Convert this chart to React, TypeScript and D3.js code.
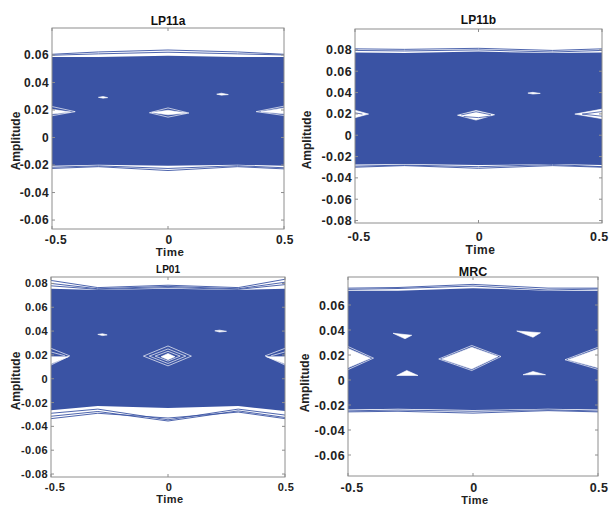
import React from 'react';
import * as d3 from 'd3';

type Pt = [number, number];

// ---------- shared data ----------
const knots = [-0.5, -0.3, 0, 0.3, 0.5];
const xTicks = [-0.5, 0, 0.5];
const titles = ['LP11a', 'LP11b', 'LP01', 'MRC'];

// ---------- LP11a ----------
const lp11aYTicks = [-0.06, -0.04, -0.02, 0, 0.02, 0.04, 0.06];
const lp11aTop = [0.0585, 0.0585, 0.0595, 0.0585, 0.0585];
const lp11aBottom = [-0.0205, -0.0198, -0.0205, -0.0198, -0.0205];
const lp11aTraces = [
  [0.0605, 0.0622, 0.0636, 0.0622, 0.0605],
  [0.0598, 0.0608, 0.062, 0.0608, 0.06],
  [-0.0225, -0.0212, -0.024, -0.0212, -0.0228],
  [-0.0216, -0.0206, -0.0225, -0.0205, -0.022],
];
const lp11aEyes: Pt[][] = [
  [[-0.07, 0.0182], [0, 0.0198], [0.08, 0.0178], [0, 0.0165]],
  [[-0.5, 0.0205], [-0.42, 0.0185], [-0.5, 0.017]],
  [[0.5, 0.0215], [0.4, 0.0188], [0.5, 0.0172]],
  [[-0.3, 0.0292], [-0.28, 0.0298], [-0.26, 0.029], [-0.28, 0.0286]],
  [[0.21, 0.0315], [0.23, 0.0322], [0.26, 0.0312], [0.23, 0.0308]],
];
const lp11aRims: Pt[][] = [
  [[-0.08, 0.018], [0, 0.0215], [0.09, 0.0178], [0, 0.0148], [-0.08, 0.018]],
  [[-0.5, 0.0225], [-0.4, 0.0188], [-0.5, 0.0158]],
  [[0.5, 0.0228], [0.38, 0.0188], [0.5, 0.016]],
];
const lp11aInner: Pt[][] = [];

// ---------- LP11b ----------
const lp11bYTicks = [-0.08, -0.06, -0.04, -0.02, 0, 0.02, 0.04, 0.06, 0.08];
const lp11bTop = [0.0775, 0.077, 0.0785, 0.077, 0.0775];
const lp11bBottom = [-0.0275, -0.027, -0.028, -0.027, -0.028];
const lp11bTraces = [
  [0.081, 0.0805, 0.0815, 0.0795, 0.081],
  [0.0795, 0.079, 0.08, 0.078, 0.0795],
  [-0.03, -0.0285, -0.031, -0.0285, -0.03],
  [-0.029, -0.028, -0.0295, -0.0275, -0.0295],
];
const lp11bEyes: Pt[][] = [
  [[-0.085, 0.0188], [-0.01, 0.0232], [0.065, 0.0192], [-0.01, 0.0142]],
  [[-0.5, 0.0235], [-0.445, 0.0198], [-0.5, 0.0165]],
  [[0.5, 0.0245], [0.39, 0.0198], [0.5, 0.0155]],
  [[0.2, 0.0395], [0.22, 0.0402], [0.25, 0.0392], [0.22, 0.0386]],
];
const lp11bRims: Pt[][] = [];
const lp11bInner: Pt[][] = [
  [[-0.07, 0.019], [-0.01, 0.022], [0.05, 0.0192]],
  [[-0.06, 0.0175], [0, 0.0165], [0.05, 0.018]],
  [[0.5, 0.0222], [0.42, 0.0198], [0.5, 0.0178]],
  [[-0.5, 0.021], [-0.47, 0.0198]],
];

// ---------- LP01 ----------
const lp01YTicks = [-0.08, -0.06, -0.04, -0.02, 0, 0.02, 0.04, 0.06, 0.08];
const lp01Top = [0.0755, 0.0745, 0.0755, 0.0745, 0.0755];
const lp01Bottom = [-0.0265, -0.023, -0.0245, -0.023, -0.027];
const lp01Traces = [
  [0.0825, 0.0765, 0.0785, 0.0765, 0.0835],
  [0.08, 0.0755, 0.0775, 0.0755, 0.081],
  [0.078, 0.075, 0.0765, 0.075, 0.079],
  [-0.029, -0.0255, -0.0345, -0.0255, -0.0305],
  [-0.0315, -0.0275, -0.0355, -0.027, -0.0325],
  [-0.0335, -0.029, -0.033, -0.028, -0.0335],
];
const lp01Eyes: Pt[][] = [
  [[-0.03, 0.0185], [0, 0.0212], [0.03, 0.0185], [0, 0.016]],
  [[-0.5, 0.0185], [-0.425, 0.0185], [-0.5, 0.0125]],
  [[0.5, 0.0185], [0.42, 0.0185], [0.5, 0.0125]],
  [[-0.3, 0.0372], [-0.28, 0.0378], [-0.26, 0.0368], [-0.28, 0.0362]],
  [[0.2, 0.0402], [0.22, 0.0408], [0.25, 0.0398], [0.22, 0.0392]],
];
const lp01Rims: Pt[][] = [
  [[-0.105, 0.019], [0, 0.0275], [0.1, 0.019], [0, 0.0108], [-0.105, 0.019]],
  [[-0.08, 0.019], [0, 0.025], [0.076, 0.019], [0, 0.0128], [-0.08, 0.019]],
  [[-0.055, 0.019], [0, 0.023], [0.052, 0.019], [0, 0.0148], [-0.055, 0.019]],
  [[-0.5, 0.0255], [-0.42, 0.0192], [-0.5, 0.0115]],
  [[-0.5, 0.0225], [-0.44, 0.0192]],
  [[0.5, 0.0255], [0.415, 0.0192], [0.5, 0.0115]],
  [[0.5, 0.0225], [0.44, 0.0192]],
];
const lp01Inner: Pt[][] = [];

// ---------- MRC ----------
const mrcYTicks = [-0.06, -0.04, -0.02, 0, 0.02, 0.04, 0.06];
const mrcTop = [0.0715, 0.0715, 0.0735, 0.0715, 0.0715];
const mrcBottom = [-0.0235, -0.023, -0.024, -0.023, -0.0235];
const mrcTraces = [
  [0.0735, 0.074, 0.0765, 0.0735, 0.0735],
  [0.0725, 0.0732, 0.0752, 0.072, 0.0728],
  [-0.0255, -0.025, -0.0265, -0.0245, -0.0255],
  [-0.0247, -0.024, -0.025, -0.0238, -0.0248],
];
const mrcEyes: Pt[][] = [
  [[-0.125, 0.0168], [-0.005, 0.0262], [0.1, 0.0188], [-0.005, 0.0088]],
  [[-0.5, 0.0252], [-0.41, 0.0175], [-0.5, 0.0098]],
  [[0.5, 0.0248], [0.38, 0.0162], [0.5, 0.0098]],
  [[-0.32, 0.0374], [-0.245, 0.0358], [-0.272, 0.033]],
  [[-0.305, 0.0036], [-0.265, 0.0076], [-0.22, 0.0036]],
  [[0.175, 0.0392], [0.27, 0.0378], [0.24, 0.0342]],
  [[0.2, 0.0042], [0.24, 0.0068], [0.29, 0.0042]],
];
const mrcRims: Pt[][] = [
  [[-0.137, 0.0168], [-0.005, 0.0276], [0.112, 0.0188], [-0.005, 0.0076], [-0.137, 0.0168]],
  [[-0.5, 0.0268], [-0.398, 0.0175], [-0.5, 0.0083]],
  [[0.5, 0.0262], [0.368, 0.0162], [0.5, 0.0085]],
];
const mrcInner: Pt[][] = [];

// ---------- layout ----------
const BLUE = '#3a53a4';
const FONT = '"Liberation Sans", Arial, Helvetica, sans-serif';
const W = 611;
const H = 506;

interface PanelDef {
  title: string;
  x0: number; x1: number; y0: number; y1: number;
  yDomain: [number, number];
  yTicks: number[];
  top: number[]; bottom: number[]; traces: number[][];
  eyes: Pt[][]; rims: Pt[][]; inner: Pt[][];
  tickFont: number; titleFont: number; timeFont: number;
  titleY: number; xTickY: number; timeY: number;
  ampX: number; ampY: number;
}

const panels: PanelDef[] = [
  {
    title: titles[0], x0: 52, x1: 284, y0: 28, y1: 229, yDomain: [-0.0665, 0.0796],
    yTicks: lp11aYTicks, top: lp11aTop, bottom: lp11aBottom, traces: lp11aTraces,
    eyes: lp11aEyes, rims: lp11aRims, inner: lp11aInner,
    tickFont: 12, titleFont: 12, timeFont: 11.5, titleY: 25, xTickY: 243.5, timeY: 256, ampX: 20, ampY: 141,
  },
  {
    title: titles[1], x0: 355, x1: 602, y0: 29, y1: 223, yDomain: [-0.0823, 0.0996],
    yTicks: lp11bYTicks, top: lp11bTop, bottom: lp11bBottom, traces: lp11bTraces,
    eyes: lp11bEyes, rims: lp11bRims, inner: lp11bInner,
    tickFont: 12.5, titleFont: 12, timeFont: 12, titleY: 23.5, xTickY: 240.5, timeY: 253.5, ampX: 311, ampY: 140,
  },
  {
    title: titles[2], x0: 51, x1: 285, y0: 277, y1: 477, yDomain: [-0.0825, 0.0854],
    yTicks: lp01YTicks, top: lp01Top, bottom: lp01Bottom, traces: lp01Traces,
    eyes: lp01Eyes, rims: lp01Rims, inner: lp01Inner,
    tickFont: 11, titleFont: 10, timeFont: 11, titleY: 272.5, xTickY: 490.5, timeY: 503, ampX: 20, ampY: 381,
  },
  {
    title: titles[3], x0: 348, x1: 598, y0: 277, y1: 476, yDomain: [-0.0768, 0.0824],
    yTicks: mrcYTicks, top: mrcTop, bottom: mrcBottom, traces: mrcTraces,
    eyes: mrcEyes, rims: mrcRims, inner: mrcInner,
    tickFont: 12.5, titleFont: 12.5, timeFont: 11, titleY: 275.5, xTickY: 491.5, timeY: 503.5, ampX: 309, ampY: 383,
  },
];

function fmt(v: number): string {
  if (Math.abs(v) < 1e-9) return '0';
  return String(+v.toFixed(2));
}

function Panel({ p, idx }: { p: PanelDef; idx: number }) {
  const x = d3.scaleLinear().domain([-0.5, 0.5]).range([p.x0, p.x1]);
  const y = d3.scaleLinear().domain(p.yDomain).range([p.y1, p.y0]);
  const area = d3
    .area<number>()
    .x((_, i) => x(knots[i]))
    .y0((_, i) => y(p.bottom[i]))
    .y1((_, i) => y(p.top[i]));
  const line = d3
    .line<number>()
    .x((_, i) => x(knots[i]))
    .y((d) => y(d));
  const ptLine = d3
    .line<Pt>()
    .x((d) => x(d[0]))
    .y((d) => y(d[1]));
  const clipId = `clip-${idx}`;
  const tickLen = 3;
  const gray = '#8e8e8e';
  const midX = (p.x0 + p.x1) / 2;
  const xLabelPos = (t: number) => {
    const off = t < 0 ? 4 : t > 0 ? 1 : 1;
    const half = p.tickFont * 0.85;
    return Math.min(x(t) + off, W - half - 1);
  };
  return (
    <g>
      <defs>
        <clipPath id={clipId}>
          <rect x={p.x0} y={p.y0} width={p.x1 - p.x0} height={p.y1 - p.y0} />
        </clipPath>
      </defs>
      <g clipPath={`url(#${clipId})`}>
        <path d={area(p.top) || ''} fill={BLUE} />
        {p.traces.map((t, i) => (
          <path key={i} d={line(t) || ''} fill="none" stroke={BLUE} strokeWidth={0.9} />
        ))}
        {p.eyes.map((e, i) => (
          <path key={i} d={(ptLine(e) || '') + 'Z'} fill="#ffffff" stroke="#ffffff" strokeWidth={0.6} />
        ))}
        {p.rims.map((e, i) => (
          <path key={i} d={ptLine(e) || ''} fill="none" stroke="#ffffff" strokeWidth={0.8} opacity={0.85} />
        ))}
        {p.inner.map((e, i) => (
          <path key={i} d={ptLine(e) || ''} fill="none" stroke={BLUE} strokeWidth={0.8} />
        ))}
      </g>
      {/* axes box */}
      <rect x={p.x0} y={p.y0} width={p.x1 - p.x0} height={p.y1 - p.y0} fill="none" stroke={gray} strokeWidth={1} />
      {p.yTicks.map((t) => (
        <g key={t}>
          <line x1={p.x0} x2={p.x0 + tickLen} y1={y(t)} y2={y(t)} stroke={gray} />
          <line x1={p.x1} x2={p.x1 - tickLen} y1={y(t)} y2={y(t)} stroke={gray} />
          <text
            x={p.x0 - 3}
            y={y(t)}
            dy="0.36em"
            textAnchor="end"
            fontFamily={FONT}
            fontWeight="bold"
            fontSize={p.tickFont}
            letterSpacing={0.4}
            fill="#222"
          >
            {fmt(t)}
          </text>
        </g>
      ))}
      {xTicks.map((t) => (
        <g key={t}>
          <line x1={x(t)} x2={x(t)} y1={p.y1} y2={p.y1 - tickLen} stroke={gray} />
          <line x1={x(t)} x2={x(t)} y1={p.y0} y2={p.y0 + tickLen} stroke={gray} />
          <text
            x={xLabelPos(t)}
            y={p.xTickY}
            textAnchor="middle"
            fontFamily={FONT}
            fontWeight="bold"
            fontSize={p.tickFont}
            letterSpacing={0.4}
            fill="#222"
          >
            {fmt(t)}
          </text>
        </g>
      ))}
      <text x={midX} y={p.titleY} textAnchor="middle" fontFamily={FONT} fontWeight="bold" fontSize={p.titleFont} fill="#111">
        {p.title}
      </text>
      <text x={midX + 2} y={p.timeY} textAnchor="middle" fontFamily={FONT} fontWeight="bold" fontSize={p.timeFont} letterSpacing={0.5} fill="#222">
        Time
      </text>
      <text
        transform={`translate(${p.ampX},${p.ampY}) rotate(-90)`}
        textAnchor="middle"
        fontFamily={FONT}
        fontWeight="bold"
        fontSize={12}
        fill="#222"
      >
        Amplitude
      </text>
    </g>
  );
}

export default function App() {
  return (
    <svg
      width={W}
      height={H}
      viewBox={`0 0 ${W} ${H}`}
      style={{ position: 'absolute', left: 0, top: 0, background: '#fff' }}
    >
      <rect x={0} y={0} width={W} height={H} fill="#fff" />
      {panels.map((p, i) => (
        <Panel key={i} p={p} idx={i} />
      ))}
    </svg>
  );
}
